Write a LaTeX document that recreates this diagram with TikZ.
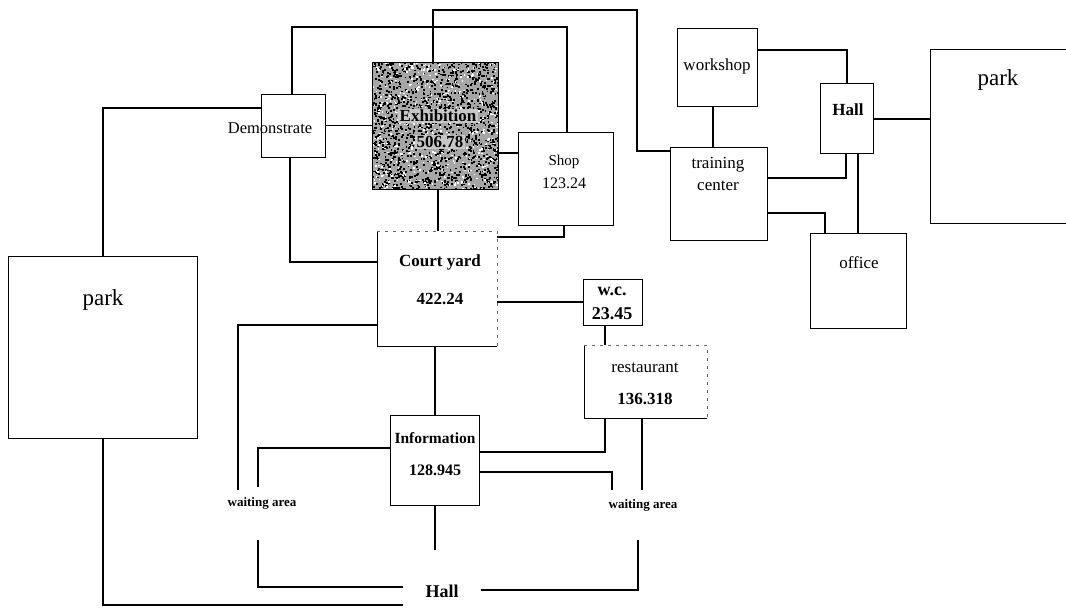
\documentclass[tikz,border=0pt]{standalone}
\usepackage{fontspec}
\setmainfont{Liberation Serif}
\usetikzlibrary{calc}
\begin{document}
\begin{tikzpicture}[x=1pt,y=-1pt,
  box/.style={draw, line width=0.7pt, inner sep=0pt, outer sep=0pt, anchor=north west},
  area/.style={inner sep=0pt, outer sep=0pt, anchor=north west},
  conn/.style={line width=1.5pt, line join=miter},
  thickconn/.style={line width=2.2pt},
  lab/.style={inner sep=0pt, font=\fontsize{17}{20}\selectfont},
  blab/.style={inner sep=0pt, font=\fontsize{17}{20}\selectfont\bfseries},
  exlab/.style={inner sep=1.5pt, font=\fontsize{17}{20}\selectfont\bfseries, fill=black!22},
  parklab/.style={inner sep=0pt, font=\fontsize{23}{26}\selectfont},
  smalllab/.style={inner sep=0pt, font=\fontsize{13}{15}\selectfont\bfseries},
  faint/.style={line width=0.6pt, black!60, dash pattern=on 3pt off 5pt}]
\useasboundingbox (0,0) rectangle (1066,609);
\fill[white] (0,0) rectangle (1066,609);

% ---------- boxes ----------
\node[box, minimum width=189pt, minimum height=182pt] (parkL) at (8,256) {};
\node[box, minimum width=150pt, minimum height=174pt] (parkR) at (930,49) {};
\node[box, minimum width=64pt, minimum height=63pt] (demo) at (261,94) {};
\node[box, minimum width=126pt, minimum height=127pt, fill=black!35] (exh) at (372,62) {};
\node[box, minimum width=95pt, minimum height=93pt] (shop) at (518,132) {};
\node[area, minimum width=120pt, minimum height=116pt] (court) at (377,231) {};
\node[box, minimum width=59pt, minimum height=46pt] (wc) at (583,279) {};
\node[area, minimum width=123pt, minimum height=73pt] (rest) at (584,345) {};
\node[box, minimum width=89pt, minimum height=90pt] (info) at (390,415) {};
\node[box, minimum width=97pt, minimum height=93pt] (train) at (670,147) {};
\node[box, minimum width=80pt, minimum height=78pt] (work) at (677,28) {};
\node[box, minimum width=53pt, minimum height=70pt] (hallT) at (820,83) {};
\node[box, minimum width=96pt, minimum height=95pt] (office) at (810,233) {};

% speckled texture of the exhibition box
\begin{scope}
\clip (exh.north west) rectangle (exh.south east);
\pgfmathsetseed{4242}
\foreach \i in {1,...,1400} {
  \pgfmathsetmacro\rx{372+126*rnd}
  \pgfmathsetmacro\ry{62+127*rnd}
  \fill[black] (\rx,\ry) rectangle ++(1.8,1.8);
}
\foreach \i in {1,...,500} {
  \pgfmathsetmacro\rx{372+126*rnd}
  \pgfmathsetmacro\ry{62+127*rnd}
  \fill[white] (\rx,\ry) rectangle ++(1.5,1.5);
}
\end{scope}
\draw[line width=0.9pt] (exh.north west) rectangle (exh.south east);

% partially drawn edges (court yard, restaurant)
\draw[line width=1pt] (court.north west) -- (court.south west) -- (court.south east);
\draw[faint] (court.north west) -- (court.north east) -- (court.south east);
\draw[line width=0.8pt] (rest.north west) -- (rest.south west) -- (rest.south east);
\draw[faint] (rest.north west) -- (rest.north east) -- (rest.south east);

% ---------- labels ----------
\node[parklab] (tparkL) at (103,300) {park};
\node[parklab] (tparkR) at (998,80) {park};
\node[lab, font=\fontsize{16.5}{18}\selectfont] (tdemo) at (270,128) {Demonstrate};
\node[exlab] (texh1) at (438,116) {Exhibition};
\node[exlab] (texh2) at (440,142) {506.78};
\node[lab, font=\fontsize{15}{17}\selectfont] (tshop1) at (564,162) {Shop};
\node[lab, font=\fontsize{16}{18}\selectfont] (tshop2) at (564,183) {123.24};
\node[blab] (tcourt1) at (440,262) {Court yard};
\node[blab] (tcourt2) at (440,299) {422.24};
\node[blab, font=\fontsize{18}{20}\selectfont\bfseries] (twc1) at (612,291) {w.c.};
\node[blab, font=\fontsize{18}{20}\selectfont\bfseries] (twc2) at (612,314) {23.45};
\node[lab] (trest1) at (645,368) {restaurant};
\node[blab] (trest2) at (645,399) {136.318};
\node[blab, font=\fontsize{15.5}{18}\selectfont\bfseries] (tinfo1) at (435,438) {Information};
\node[blab, font=\fontsize{16}{18}\selectfont\bfseries] (tinfo2) at (435,470) {128.945};
\node[smalllab] (waitL) at (262,503) {waiting area};
\node[smalllab] (waitR) at (643,505) {waiting area};
\node[blab, font=\fontsize{18}{20}\selectfont\bfseries, inner xsep=22pt] (hallB) at (442,591) {Hall};
\node[lab] (ttrain1) at (718,165) {training};
\node[lab] (ttrain2) at (718,186) {center};
\node[lab] (twork) at (717,66) {workshop};
\node[blab] (thallT) at (848,110) {Hall};
\node[lab] (toffice) at (859,263) {office};

% free ends of connectors
\coordinate (wl1) at (238,490);
\coordinate (wl2) at (258,487);
\coordinate (wl3) at (258,540);
\coordinate (wr1) at (612,490);
\coordinate (wr2) at (642,490);
\coordinate (wr3) at (638,540);
\coordinate (hb1) at (435,550);

% ---------- connectors ----------
\draw[conn] (parkL.north -| 103,0) -- (103,108) -- (demo.west |- 0,108);
\draw[conn] (demo.east) -- (exh.west);
\draw[conn] (demo.south -| 290,0) |- (court.west |- 0,262);
\draw[conn] (demo.north -| 292,0) -- (292,27) -| (shop.north -| 567,0);
\draw[conn] (exh.north -| 433,0) -- (433,10) -- (637,10) -- (637,151) -- (train.west |- 0,151);
\draw[conn] (exh.east |- 0,153) -- (shop.west |- 0,153);
\draw[conn] (exh.south -| 438,0) -- (court.north -| 438,0);
\draw[conn] (shop.south -| 564,0) |- (court.east |- 0,237);
\draw[conn] (court.east |- 0,302) -- (wc.west |- 0,302);
\draw[conn] (court.west |- 0,325) -| (wl1);
\draw[conn] (court.south -| 435,0) -- (info.north -| 435,0);
\draw[conn] (info.west |- 0,448) -| (wl2);
\draw[conn] (wl3) |- (hallB.west |- 0,587);
\draw[conn] (parkL.south -| 103,0) |- (hallB.west |- 0,605);
\draw[conn] (info.south -| 435,0) -- (hb1);
\draw[conn] (hallB.east |- 0,590) -| (wr3);
\draw[conn] (info.east |- 0,452) -| (rest.south -| 605,0);
\draw[conn] (info.east |- 0,472) -| (wr1);
\draw[conn] (rest.south -| 642,0) -- (wr2);
\draw[conn] (wc.south -| 605,0) -- (rest.north -| 605,0);
\draw[conn] (work.south -| 713,0) -- (train.north -| 713,0);
\draw[conn] (work.east |- 0,50) -| (hallT.north -| 847,0);
\draw[conn] (train.east |- 0,178) -| (hallT.south -| 846,0);
\draw[thickconn] (train.east |- 0,213) -| (office.north -| 825,0);
\draw[conn] (hallT.south -| 858,0) -- (office.north -| 858,0);
\draw[conn] (hallT.east |- 0,119) -- (parkR.west |- 0,119);
\end{tikzpicture}
\end{document}
